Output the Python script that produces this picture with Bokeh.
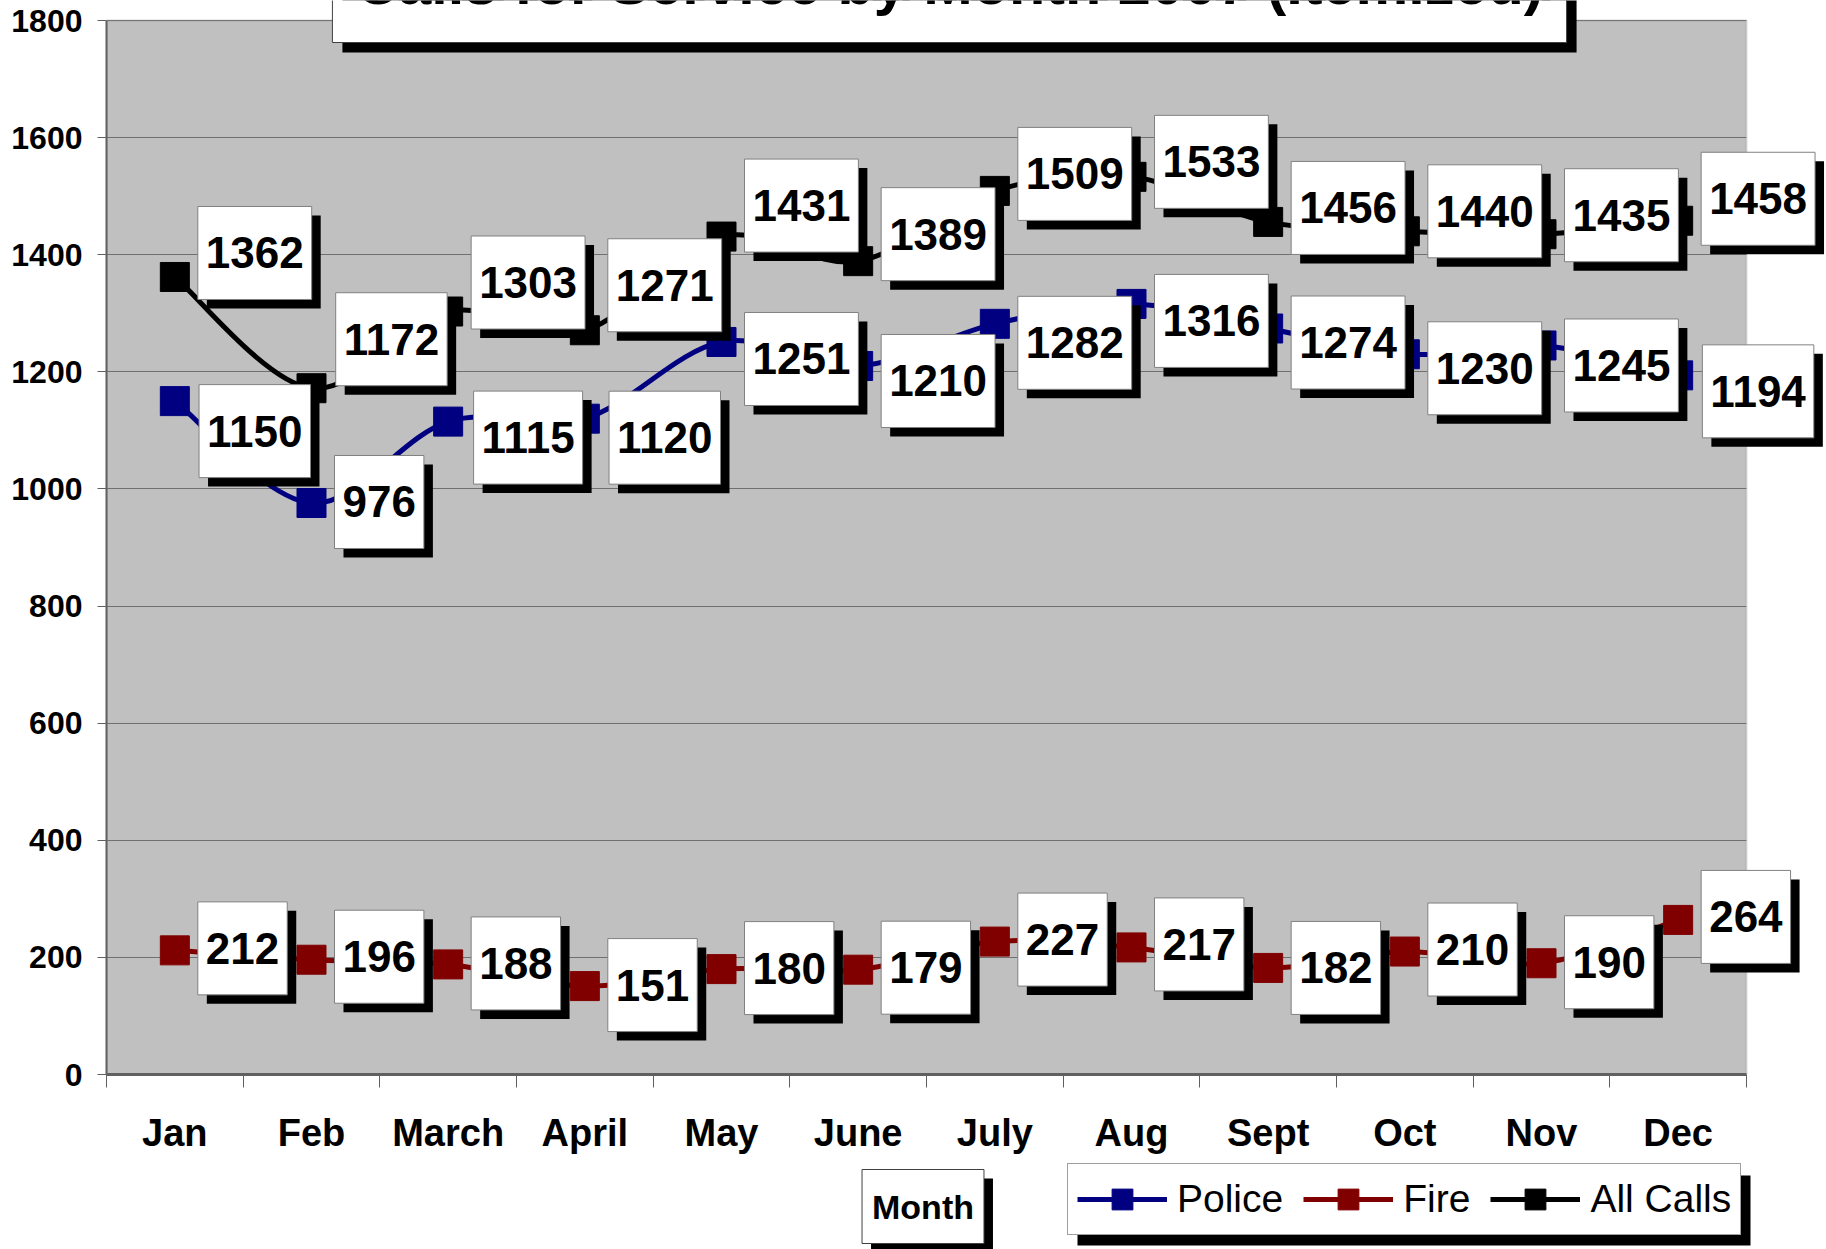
from bokeh.plotting import figure
from bokeh.layouts import column
from bokeh.models import Range1d, FixedTicker, Label, Legend, LegendItem, BoxAnnotation
from bokeh.embed import file_html
from bokeh.resources import INLINE

# ---------------- data ----------------
months = ["Jan", "Feb", "March", "April", "May", "June", "July", "Aug", "Sept", "Oct", "Nov", "Dec"]
police = [1150, 976, 1115, 1120, 1251, 1210, 1282, 1316, 1274, 1230, 1245, 1194]
fire = [212, 196, 188, 151, 180, 179, 227, 217, 182, 210, 190, 264]
all_calls = [1362, 1172, 1303, 1271, 1431, 1389, 1509, 1533, 1456, 1440, 1435, 1458]
series_names = ["Police", "Fire", "All Calls"]
y_ticks = [0, 200, 400, 600, 800, 1000, 1200, 1400, 1600, 1800]
title_text = "Calls for Service by Month 2007 (Itemized)"
x_title = "Month"

# ---------------- label layout nudges (screen px, + = down) ----------------
police_label_dy = [30, -1, 16, 19, 17, 15, 19, 17, 14, 14, 20, 16]
fire_label_dy = [-2, -3, -1, -1, -1, -2, -2, -3, 0, -2, -1, -3]
all_label_dy = [-24, -49, -29, -45, -31, -27, -17, -15, -14, -20, -19, -22]

# ---------------- styling / geometry ----------------
FONT = "Liberation Sans"
colors = ["#000080", "#800000", "#000000"]
W = 1826
HA, HB = 1156, 93            # main chart, legend strip
BL, BB = 106, 82             # left / bottom borders of the main chart
PL, PR, PT, PB = 106, 1746, 20, 1074   # plot area (pixels)
XMAX = len(months)
YMAX = y_ticks[-1]
SX = (PR - PL) / XMAX
SY = (PB - PT) / YMAX
X_END = (W - BL) / SX
Y_END = PB / SY


def px2x(px):
    return (px - PL) / SX


def px2y(py):
    return (PB - py) / SY


p = figure(width=W, height=HA, output_backend="svg", toolbar_location=None,
           x_range=Range1d(0, X_END), y_range=Range1d(0, Y_END),
           min_border_left=BL, min_border_right=0, min_border_top=0, min_border_bottom=BB,
           title=None)
p.background_fill_color = "white"
p.border_fill_color = "white"
p.outline_line_color = None

# plot area (grey), drawn under the grid
p.add_layout(BoxAnnotation(left=0, right=XMAX, bottom=0, top=YMAX, fill_color="#C0C0C0",
                           fill_alpha=1, line_color=None, level="image"))

xs = [i + 0.5 for i in range(len(months))]

xax = p.xaxis[0]
xax.ticker = FixedTicker(ticks=xs, minor_ticks=list(range(len(months) + 1)))
xax.major_label_overrides = {x: m for x, m in zip(xs, months)}
xax.bounds = (0, XMAX)
xax.major_tick_out = 0
xax.major_tick_in = 0
xax.minor_tick_out = 13
xax.minor_tick_in = 0
xax.minor_tick_line_color = "#606060"
xax.axis_line_color = "#606060"
xax.axis_line_width = 3
xax.major_label_text_font = FONT
xax.major_label_text_font_style = "bold"
xax.major_label_text_font_size = "38px"
xax.major_label_text_color = "black"
xax.major_label_standoff = 24

yax = p.yaxis[0]
yax.ticker = FixedTicker(ticks=y_ticks)
yax.bounds = (0, YMAX)
yax.major_tick_out = 9
yax.major_tick_in = 0
yax.minor_tick_out = 0
yax.minor_tick_in = 0
yax.major_tick_line_color = "#606060"
yax.axis_line_color = "#606060"
yax.axis_line_width = 2
yax.major_label_text_font = FONT
yax.major_label_text_font_style = "bold"
yax.major_label_text_font_size = "32px"
yax.major_label_text_color = "black"
yax.major_label_standoff = 15

p.xgrid.grid_line_color = None
p.ygrid.ticker = FixedTicker(ticks=y_ticks)
p.ygrid.grid_line_color = "#707070"
p.ygrid.grid_line_width = 1

# white cover right of the plot area (hides grid overrun), then plot-area border
p.add_layout(BoxAnnotation(left=XMAX, right=X_END + 1, bottom=-50, top=Y_END + 50,
                           fill_color="white", fill_alpha=1, line_color=None, level="underlay"))
p.add_layout(BoxAnnotation(left=0, right=XMAX, bottom=0, top=YMAX, fill_color=None,
                           line_color="#808080", line_width=2, level="underlay"))


def smooth(xv, yv):
    n = len(xv)
    seg = dict(x0=[], y0=[], x1=[], y1=[], cx0=[], cy0=[], cx1=[], cy1=[])
    for i in range(n - 1):
        a = max(i - 1, 0)
        b = min(i + 2, n - 1)
        seg["x0"].append(xv[i]); seg["y0"].append(yv[i])
        seg["x1"].append(xv[i + 1]); seg["y1"].append(yv[i + 1])
        seg["cx0"].append(xv[i] + (xv[i + 1] - xv[a]) / 6)
        seg["cy0"].append(yv[i] + (yv[i + 1] - yv[a]) / 6)
        seg["cx1"].append(xv[i + 1] - (xv[b] - xv[i]) / 6)
        seg["cy1"].append(yv[i + 1] - (yv[b] - yv[i]) / 6)
    return seg


for vals, col in zip([police, fire, all_calls], colors):
    s = smooth(xs, vals)
    p.bezier(x0=s["x0"], y0=s["y0"], x1=s["x1"], y1=s["y1"],
             cx0=s["cx0"], cy0=s["cy0"], cx1=s["cx1"], cy1=s["cy1"],
             line_color=col, line_width=5)
    p.scatter(xs, vals, marker="square", size=29, fill_color=col, line_color=col)

# ---------------- boxed labels with drop shadows ----------------
SH = 9


def boxed(fig, x, y, text, size, xoff=0, yoff=0, pad=(8, 8, 31, 31), style="bold",
          align="center", baseline="middle", border="#808080", sh=SH):
    l, r, t, b = pad
    padd = dict(left=l, right=r, top=t, bottom=b)
    common = dict(x=x, y=y, text=text, text_font=FONT, text_font_size=f"{size}px",
                  text_font_style=style, text_align=align, text_baseline=baseline,
                  padding=padd)
    shadow = Label(x_offset=xoff + sh, y_offset=yoff - sh, text_color="black",
                   background_fill_color="black", border_line_color=None, **common)
    lb = Label(x_offset=xoff, y_offset=yoff, text_color="black",
               background_fill_color="white", border_line_color=border,
               border_line_width=1, **common)
    fig.add_layout(shadow)
    fig.add_layout(lb)


LFS = 44
GAP = 23
for vals, dys in zip([police, fire, all_calls], [police_label_dy, fire_label_dy, all_label_dy]):
    for x, v, d in zip(xs, vals, dys):
        txt = str(v)
        bw = len(txt) * 0.556 * LFS + 16
        boxed(p, x, v, txt, LFS, xoff=GAP + bw / 2, yoff=-d)

# title box (cut by the top edge, as in the reference)
boxed(p, px2x(949), px2y(42), title_text, 59.4, pad=(23, 23, 26, 26), baseline="bottom",
      border="#404040", sh=10)

# ---------------- legend strip (data units = page pixels) ----------------
q = figure(width=W, height=HB, output_backend="svg", toolbar_location=None,
           x_range=Range1d(BL, W), y_range=Range1d(HB, 0),
           min_border_left=BL, min_border_right=0, min_border_top=0,
           min_border_bottom=0, x_axis_type=None, y_axis_type=None, title=None)
q.background_fill_color = "white"
q.border_fill_color = "white"
q.outline_line_color = None
q.extra_y_ranges = {"off": Range1d(YMAX * 10, YMAX * 11)}   # keeps legend proxies out of view

TOP = HA  # page y of the strip's top
boxed(q, 922.5, 1206 - TOP, x_title, 34, pad=(10, 10, 18, 18), border="#404040", sh=9)

LG_L, LG_R, LG_T, LG_B = 1067, 1740, 1165, 1235
q.add_layout(BoxAnnotation(left=LG_L + 10, right=LG_R + 10, top=LG_T + 10 - TOP,
                           bottom=LG_B + 10 - TOP, fill_color="black", fill_alpha=1,
                           line_color=None))
items = []
for name, vals, col in zip(series_names, [police, fire, all_calls], colors):
    ln = q.line(xs, vals, line_color=col, line_width=5, y_range_name="off")
    mk = q.scatter(xs, vals, marker="square", size=29, fill_color=col, line_color=col,
                   y_range_name="off")
    items.append(LegendItem(label=name, renderers=[ln, mk]))
legend = Legend(items=items, location=(LG_L - BL, HB - (LG_B - TOP)), orientation="horizontal",
                glyph_width=90, glyph_height=52, label_standoff=10, spacing=20, padding=9, margin=0,
                label_text_font=FONT, label_text_font_size="39px", label_text_color="black",
                border_line_color="#404040", border_line_width=1.5,
                background_fill_color="white", background_fill_alpha=1)
q.add_layout(legend)

open("out.html", "w").write(file_html(column(p, q, spacing=0), INLINE))
